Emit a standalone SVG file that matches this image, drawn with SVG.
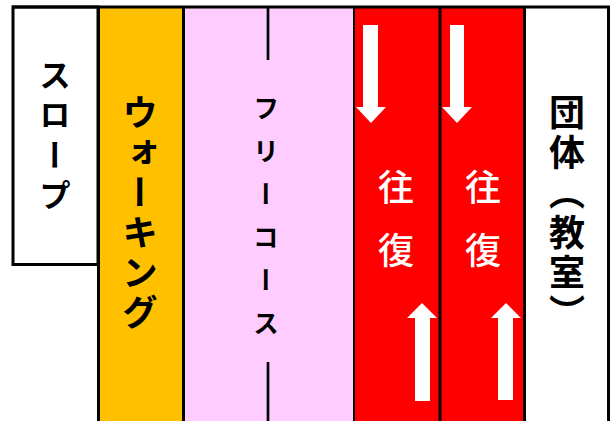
<svg xmlns="http://www.w3.org/2000/svg" width="611" height="421" viewBox="0 0 611 421">
<style>
.v{writing-mode:vertical-rl;font-family:"Noto Sans CJK JP","Noto Sans",sans-serif;font-weight:700}
.blk{fill:#000}
.wht{fill:#fff;font-weight:500}
.edge{stroke:#000;stroke-width:3;fill:none}
.arrow{fill:#fff}
</style>
<rect x="0" y="0" width="611" height="421" fill="#fff"/>
<g id="walking">
<rect x="98" y="7" width="85" height="414" fill="#FFC000"/>
<text class="v blk" x="140" y="94" font-size="36" letter-spacing="4">ウォーキング</text>
</g>
<g id="freecourse">
<rect x="184" y="7" width="170" height="414" fill="#FFCCFF"/>
<text class="v blk" x="266" y="95" font-size="26" letter-spacing="17">フリーコース</text>
</g>
<g id="lane1">
<rect x="354" y="7" width="86" height="414" fill="#FF0000"/>
<text class="v wht" x="396" y="169" font-size="36" letter-spacing="27">往復</text>
</g>
<g id="lane2">
<rect x="440" y="7" width="85" height="414" fill="#FF0000"/>
<text class="v wht" x="483" y="169" font-size="36" letter-spacing="27">往復</text>
</g>
<g id="group">
<rect x="525" y="7" width="83" height="414" fill="#fff"/>
<text class="v blk" x="567" y="94" font-size="36" letter-spacing="4">団体（教室）</text>
</g>
<g id="slope">
<rect x="13" y="7" width="85" height="257.5" fill="#fff" class="edge"/>
<text class="v blk" x="55" y="59" font-size="32" letter-spacing="8">スロープ</text>
</g>
<g id="connectors">
<line class="edge" x1="12" y1="7" x2="610" y2="7"/>
<line class="edge" x1="98.5" y1="7" x2="98.5" y2="421"/>
<line class="edge" x1="183.5" y1="7" x2="183.5" y2="421"/>
<line x1="354" y1="7" x2="354" y2="421" stroke="#000" stroke-width="2"/>
<line class="edge" x1="440" y1="7" x2="440" y2="421"/>
<line class="edge" x1="524.5" y1="7" x2="524.5" y2="421"/>
<line class="edge" x1="608.5" y1="7" x2="608.5" y2="421"/>
<line x1="268" y1="8" x2="268" y2="60" stroke="#000" stroke-width="2.7"/>
<line x1="268" y1="362" x2="268" y2="421" stroke="#000" stroke-width="2.7"/>
<polygon class="arrow" points="363,25 378,25 378,107 386,107 371,123 356,107 363,107"/>
<polygon class="arrow" points="450,25 464,25 464,107 472,107 457,123 442,107 450,107"/>
<polygon class="arrow" points="415,401 430,401 430,318 437,318 422,303 407,318 415,318"/>
<polygon class="arrow" points="498,400 513,400 513,318 521,318 506,303 491,318 498,318"/>
</g>
</svg>
